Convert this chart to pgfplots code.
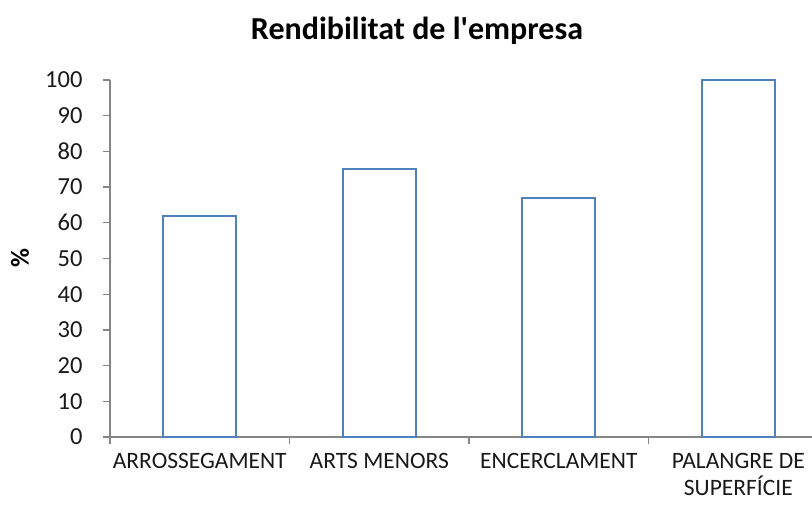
\documentclass[border=0pt]{standalone}
\usepackage{fontspec}
\setmainfont{Carlito}
\usepackage{pgfplots}
\usetikzlibrary{calc}
\pgfplotsset{compat=1.18}
\definecolor{barblue}{HTML}{4F81BD}
\definecolor{axgray}{HTML}{868686}
\begin{document}
\begin{tikzpicture}[x=1pt,y=1pt]
\begin{axis}[name=ax, scale only axis, width=702pt, height=357pt,
  xmin=-0.5, xmax=3.41, ymin=0, ymax=100,
  axis x line*=bottom, axis y line*=left,
  axis line style={axgray, line width=1.3pt},
  ytick={0,10,...,100},
  xtick={0,1,2,3},
  xticklabels={ARROSSEGAMENT, ARTS MENORS, ENCERCLAMENT, {PALANGRE DE\\SUPERFÍCIE}},
  minor xtick={-0.5,0.5,1.5,2.5},
  tick align=outside,
  major tick length=7pt, minor tick length=7pt,
  every tick/.style={axgray, line width=1.3pt},
  major x tick style={draw=none},
  /pgf/number format/assume math mode=true,
  yticklabel style={font=\fontsize{24.5}{28}\selectfont, text=black!90, xshift=-17pt},
  xticklabel style={font=\fontsize{23.5}{27}\selectfont, text=black!90, align=center, yshift=-8pt, inner sep=1pt},
  ylabel={\%},
  ylabel style={font=\fontsize{26}{30}\selectfont\bfseries, at={(axis description cs:-0.128,0.5)}, anchor=center},
  ybar, bar width=73pt,
  clip=false,
]
\addplot[draw=barblue, fill=white, line width=2.2pt] coordinates {(0,62) (1,75) (2,67) (3,100)};
\end{axis}
\node[font=\fontsize{32}{36}\selectfont\bfseries] at ($(ax.south west)+(307,406)$) {Rendibilitat de l\textquotesingle empresa};
\pgfresetboundingbox
\path (ax.south west) ++(-110,-69) rectangle ++(812,506);
\end{tikzpicture}
\end{document}
